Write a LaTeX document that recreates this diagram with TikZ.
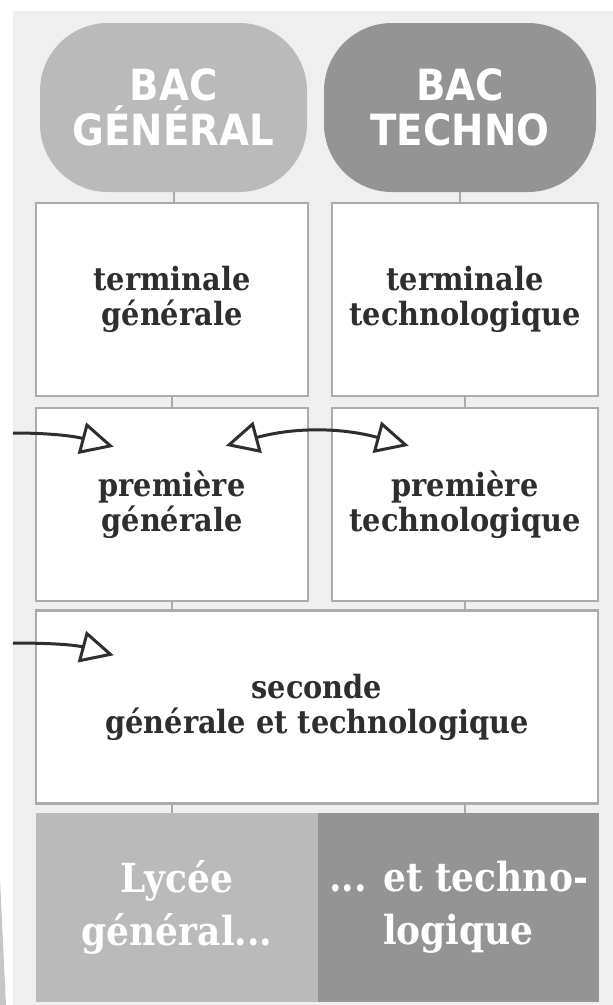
\documentclass[tikz,border=0pt]{standalone}
\usepackage{fontspec}
\setmainfont{DejaVu Serif Condensed}
\newfontfamily\bacfont{DejaVu Sans Condensed}
\usetikzlibrary{arrows.meta}

\definecolor{bgcol}{RGB}{239,239,239}
\definecolor{gencol}{RGB}{186,186,186}
\definecolor{techcol}{RGB}{148,148,148}
\definecolor{boxline}{RGB}{172,172,172}
\definecolor{stemcol}{RGB}{170,170,170}
\definecolor{txtcol}{RGB}{46,46,46}

\begin{document}
\begin{tikzpicture}[x=1pt, y=1pt,
  every node/.style={align=center, inner sep=0pt},
  bac/.style={rounded corners=68pt, minimum height=169pt, text=white,
    font=\bacfont\bfseries\fontsize{43}{45}\selectfont},
  classbox/.style={draw=boxline, line width=2.5pt, fill=white, minimum height=193pt,
    text=txtcol, font=\bfseries\fontsize{32}{35}\selectfont},
  lycee/.style={minimum height=189pt, text=white,
    font=\bfseries\fontsize{40}{53}\selectfont},
  stem/.style={draw=stemcol, line width=2pt},
  arr/.style={draw=txtcol, line width=3pt, line join=round,
    -{Triangle[open, length=33pt, width=32pt]}},
  arrboth/.style={draw=txtcol, line width=3pt, line join=round,
    {Triangle[open, length=33pt, width=32pt]}-{Triangle[open, length=33pt, width=32pt]}}
]
\useasboundingbox (0,0) rectangle (613,-1005);
\fill[bgcol] (13,-11) rectangle (613,-1005);
\fill[gray!45] (0,-880) -- (6,-1005) -- (0,-1005) -- cycle;

% Nodes
\node[bac, fill=gencol, minimum width=267pt] (bacgen) at (173.5,-107.5) {BAC\\GÉNÉRAL};
\node[bac, fill=techcol, minimum width=272pt] (bactech) at (460,-107.5) {BAC\\TECHNO};
\node[classbox, minimum width=272pt] (tgen) at (172,-299.5) {terminale\\générale};
\node[classbox, minimum width=266pt] (ttech) at (465,-299.5) {terminale\\technologique};
\node[classbox, minimum width=272pt] (pgen) at (172,-504.5) {première\\générale};
\node[classbox, minimum width=266pt] (ptech) at (465,-504.5) {première\\technologique};
\node[classbox, minimum width=562pt] (sec) at (317,-707) {seconde\\générale et technologique};
\node[lycee, fill=gencol, minimum width=282pt] (lgen) at (177,-907.5) {Lycée\\général...};
\node[lycee, fill=techcol, minimum width=281pt] (ltech) at (458.5,-907.5) {... et techno-\\logique};

% Stems
\draw[stem] (bacgen.south) -- (bacgen.south |- tgen.north);
\draw[stem] (bactech.south) -- (bactech.south |- ttech.north);
\draw[stem] (tgen.south) -- (pgen.north);
\draw[stem] (ttech.south) -- (ptech.north);
\draw[stem] (pgen.south) -- (pgen.south |- sec.north);
\draw[stem] (ptech.south) -- (ptech.south |- sec.north);
\draw[stem] (sec.south -| pgen.south) -- (lgen.north -| pgen.south);
\draw[stem] (sec.south -| ptech.south) -- (ltech.north -| ptech.south);

% Arrows
\coordinate (in1) at (13,-433);
\coordinate (in2) at (13,-643);
\draw[arr] (in1) to[out=0, in=165] ([shift={(79,-40)}]pgen.north west);
\draw[arrboth] ([shift={(191,-39)}]pgen.north west) to[bend left=15] ([shift={(78,-39)}]ptech.north west);
\draw[arr] (in2) to[out=0, in=165] ([shift={(79,-46)}]sec.north west);
\end{tikzpicture}
\end{document}
